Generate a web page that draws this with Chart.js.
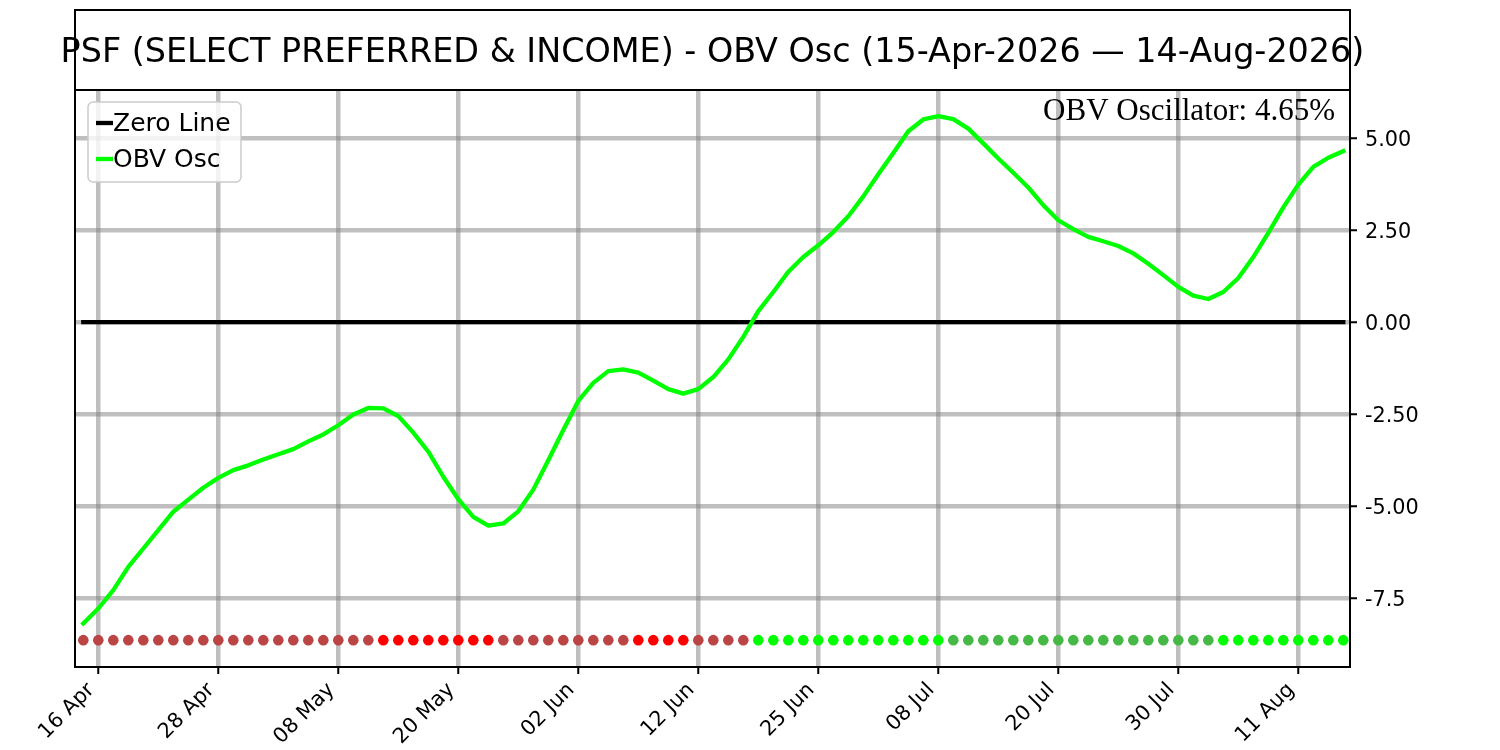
<!DOCTYPE html>
<html>
<head>
<meta charset="utf-8">
<script src="https://cdn.jsdelivr.net/npm/chart.js@4.4.1/dist/chart.umd.min.js"></script>
<style>
html,body{margin:0;padding:0;background:#ffffff;}
canvas{display:block;}
</style>
</head>
<body>
<canvas id="c" width="1500" height="750"></canvas>
<script>
// ---------------- DATA ----------------
const chartTitle = 'PSF (SELECT PREFERRED & INCOME) - OBV Osc (15-Apr-2026 \u2014 14-Aug-2026)';

const tradingDays = [
  '15 Apr','16 Apr','17 Apr','20 Apr','21 Apr','22 Apr','23 Apr','24 Apr','27 Apr','28 Apr','29 Apr','30 Apr',
  '01 May','04 May','05 May','06 May','07 May','08 May','11 May','12 May','13 May','14 May','15 May','18 May',
  '19 May','20 May','21 May','22 May','26 May','27 May','28 May','29 May',
  '01 Jun','02 Jun','03 Jun','04 Jun','05 Jun','08 Jun','09 Jun','10 Jun','11 Jun','12 Jun','15 Jun','16 Jun',
  '17 Jun','18 Jun','22 Jun','23 Jun','24 Jun','25 Jun','26 Jun','29 Jun','30 Jun',
  '01 Jul','02 Jul','06 Jul','07 Jul','08 Jul','09 Jul','10 Jul','13 Jul','14 Jul','15 Jul','16 Jul','17 Jul',
  '20 Jul','21 Jul','22 Jul','23 Jul','24 Jul','27 Jul','28 Jul','29 Jul','30 Jul','31 Jul',
  '03 Aug','04 Aug','05 Aug','06 Aug','07 Aug','10 Aug','11 Aug','12 Aug','13 Aug','14 Aug'
];

const obvOsc = [
  -8.19,-7.78,-7.28,-6.65,-6.15,-5.65,-5.15,-4.82,-4.50,-4.23,-4.02,-3.89,
  -3.73,-3.59,-3.45,-3.24,-3.05,-2.80,-2.51,-2.33,-2.34,-2.55,-3.00,-3.52,
  -4.20,-4.81,-5.29,-5.53,-5.47,-5.14,-4.55,-3.75,-2.93,-2.14,-1.65,-1.33,
  -1.28,-1.37,-1.59,-1.82,-1.94,-1.82,-1.49,-1.01,-0.40,0.30,0.82,1.37,
  1.77,2.09,2.45,2.88,3.42,4.02,4.60,5.19,5.51,5.60,5.52,5.26,
  4.86,4.45,4.06,3.66,3.18,2.77,2.53,2.32,2.20,2.07,1.87,1.59,
  1.28,0.96,0.72,0.63,0.82,1.20,1.77,2.43,3.12,3.74,4.22,4.47,4.65
];

// signal dot state per day: nu = negative rising, nd = negative falling, pu = positive rising, pd = positive falling
const signalState = [
  'nu','nu','nu','nu','nu','nu','nu','nu','nu','nu','nu','nu','nu','nu','nu','nu','nu','nu','nu','nu',
  'nd','nd','nd','nd','nd','nd','nd','nd',
  'nu','nu','nu','nu','nu','nu','nu','nu','nu',
  'nd','nd','nd','nd',
  'nu','nu','nu','nu',
  'pu','pu','pu','pu','pu','pu','pu','pu','pu','pu','pu','pu','pu',
  'pd','pd','pd','pd','pd','pd','pd','pd','pd','pd','pd','pd','pd','pd','pd','pd','pd','pd',
  'pu','pu','pu','pu','pu','pu','pu','pu','pu'
];

const xTickLabels = ['16 Apr','28 Apr','08 May','20 May','02 Jun','12 Jun','25 Jun','08 Jul','20 Jul','30 Jul','11 Aug'];
const yTickValues = [-7.5, -5, -2.5, 0, 2.5, 5];
const yTickLabels = ['-7.5', '-5.00', '-2.50', '0.00', '2.50', '5.00'];
const zeroLevel = 0;

// ---------------- STYLE ----------------
const SANS = "'DejaVu Sans', sans-serif";
const SERIF = "'Liberation Serif', 'DejaVu Serif', serif";
const stateColors = { nu: '#bb4545', nd: '#ff0000', pu: '#00ff00', pd: '#46b846' };
const dotLevel = -8.64;
const gridColor = 'rgba(128,128,128,0.5)';

const xTickIndex = xTickLabels.map(l => tradingDays.indexOf(l));
const lastIdx = tradingDays.length - 1;

const framePlugin = {
  id: 'frame',
  afterDraw(chart) {
    const ctx = chart.ctx;
    const a = chart.chartArea;
    ctx.save();
    // spines
    ctx.strokeStyle = '#000';
    ctx.lineWidth = 2;
    ctx.strokeRect(a.left, a.top, a.right - a.left, a.bottom - a.top);
    // title box
    ctx.strokeRect(a.left, 10, a.right - a.left, a.top - 10);
    ctx.fillStyle = '#000';
    ctx.font = '33.4px ' + SANS;
    ctx.textAlign = 'center';
    ctx.textBaseline = 'alphabetic';
    ctx.fillText(chartTitle, (a.left + a.right) / 2, 62);
    // annotation
    ctx.font = '31px ' + SERIF;
    ctx.textAlign = 'right';
    ctx.fillText('OBV Oscillator: ' + obvOsc[lastIdx].toFixed(2) + '%', a.right - 15, 120);
    // legend
    const lx = 88, ly = 102, lw = 153, lh = 80, r = 5;
    ctx.beginPath();
    ctx.moveTo(lx + r, ly);
    ctx.arcTo(lx + lw, ly, lx + lw, ly + lh, r);
    ctx.arcTo(lx + lw, ly + lh, lx, ly + lh, r);
    ctx.arcTo(lx, ly + lh, lx, ly, r);
    ctx.arcTo(lx, ly, lx + lw, ly, r);
    ctx.closePath();
    ctx.fillStyle = 'rgba(255,255,255,0.8)';
    ctx.fill();
    ctx.strokeStyle = '#cccccc';
    ctx.lineWidth = 1.5;
    ctx.stroke();
    const entries = [
      { label: chart.data.datasets[1].label, color: '#000000', y: 123 },
      { label: chart.data.datasets[0].label, color: '#00ff00', y: 159 }
    ];
    ctx.font = '25px ' + SANS;
    ctx.textAlign = 'left';
    ctx.textBaseline = 'middle';
    entries.forEach(e => {
      ctx.strokeStyle = e.color;
      ctx.lineWidth = 4.3;
      ctx.lineCap = 'butt';
      ctx.beginPath();
      ctx.moveTo(96, e.y);
      ctx.lineTo(113, e.y);
      ctx.stroke();
      ctx.fillStyle = '#000';
      ctx.fillText(e.label, 113, e.y + 1);
    });
    ctx.restore();
  }
};

new Chart(document.getElementById('c').getContext('2d'), {
  type: 'line',
  data: {
    datasets: [
      {
        label: 'OBV Osc',
        data: obvOsc.map((v, i) => ({ x: i, y: v })),
        borderColor: '#00ff00',
        borderWidth: 4.3,
        borderJoinStyle: 'round',
        borderCapStyle: 'square',
        pointRadius: 0,
        tension: 0,
        fill: false,
        order: 0
      },
      {
        label: 'Zero Line',
        data: [{ x: 0, y: zeroLevel }, { x: lastIdx, y: zeroLevel }],
        borderColor: '#000000',
        borderWidth: 4.3,
        borderCapStyle: 'square',
        pointRadius: 0,
        fill: false,
        order: 1
      },
      {
        label: 'Signal',
        type: 'scatter',
        data: signalState.map((s, i) => ({ x: i, y: dotLevel })),
        pointRadius: 5.3,
        pointBorderWidth: 0,
        pointBackgroundColor: signalState.map(s => stateColors[s]),
        showLine: false,
        order: 2
      }
    ]
  },
  options: {
    responsive: false,
    animation: false,
    devicePixelRatio: 1,
    layout: { padding: { left: 75, top: 90, right: 0, bottom: 0 } },
    plugins: { legend: { display: false }, tooltip: { enabled: false }, title: { display: false } },
    scales: {
      x: {
        type: 'linear',
        position: 'bottom',
        min: -0.553,
        max: lastIdx + 0.447,
        afterBuildTicks: s => { s.ticks = xTickIndex.map(v => ({ value: v })); },
        afterFit: s => { s.height = 83; },
        border: { display: false },
        grid: { color: gridColor, lineWidth: 4.5, drawTicks: true, tickLength: 7, tickColor: '#000', tickWidth: 2 },
        ticks: {
          autoSkip: false, minRotation: 45, maxRotation: 45, padding: 4, labelOffset: -7,
          color: '#000', font: { family: SANS, size: 20.8 },
          callback: v => tradingDays[v]
        }
      },
      y: {
        type: 'linear',
        position: 'right',
        min: -9.37,
        max: 6.31,
        afterBuildTicks: s => { s.ticks = yTickValues.map(v => ({ value: v })); },
        afterFit: s => { s.width = 150; },
        border: { display: false },
        grid: { color: gridColor, lineWidth: 4.5, drawTicks: true, tickLength: 7, tickColor: '#000', tickWidth: 2 },
        ticks: {
          padding: 8, labelOffset: 2, color: '#000', font: { family: SANS, size: 20.8 },
          callback: v => yTickLabels[yTickValues.indexOf(v)]
        }
      }
    }
  },
  plugins: [framePlugin]
});
</script>
</body>
</html>
